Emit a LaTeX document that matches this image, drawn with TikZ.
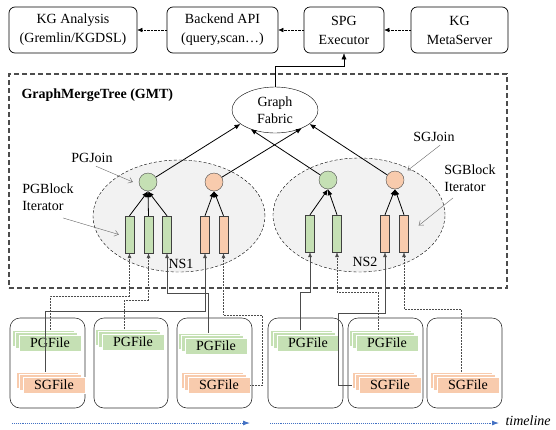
\documentclass[tikz,border=0pt]{standalone}
\usepackage{fontspec}
\setmainfont{Liberation Serif}
\usetikzlibrary{arrows.meta,positioning,shapes.geometric,shadows}

\definecolor{pgreen}{HTML}{C5E0B4}
\definecolor{sorange}{HTML}{F8CBAD}
\definecolor{nsgray}{HTML}{F2F2F2}
\definecolor{tlblue}{HTML}{4472C4}

\begin{document}
\begin{tikzpicture}[x=1pt,y=-1pt,
		font=\fontsize{14}{17}\selectfont,
		svc/.style={draw, rounded corners=6pt, minimum height=46pt, align=center, line width=0.7pt, font=\fontsize{14}{19}\selectfont},
		flow/.style={densely dotted, thin, -{Latex[length=5pt,width=4.5pt]}},
		gmtbox/.style={draw=black!70, dashed, line width=1.1pt, dash pattern=on 5pt off 3pt},
		nsarea/.style={ellipse, draw, densely dashed, fill=nsgray, thin},
		joinnode/.style={circle, draw=black!70, minimum size=18pt, inner sep=0pt},
		blockbar/.style={draw=black!75, minimum width=9pt, minimum height=37pt, inner sep=0pt},
		merge/.style={line width=0.8pt, -{Latex[length=6pt,width=5pt]}},
		callout/.style={draw=black!60, thin, -{Straight Barb[length=4pt,width=6pt]}},
		filebox/.style={draw=black!80, line width=0.6pt, rounded corners=10pt, minimum height=90pt, fill=white},
		filestack/.style={double copy shadow={shadow xshift=-3.5pt, shadow yshift=2.5pt}, draw=white, line width=0.6pt, minimum width=62pt, minimum height=16pt, inner sep=0pt},
		feed/.style={draw=black!70, line width=0.5pt, -{Latex[length=5pt,width=4pt]}},
		feeddot/.style={feed, densely dotted},
		timeline/.style={draw=tlblue, densely dotted, line width=0.9pt, -{Latex[length=7pt,width=5pt]}}]

		\useasboundingbox (0,0) rectangle (556,429);

		% services on top
		\node[svc, minimum width=128pt] (kga) at (73,30) {KG Analysis\\(Gremlin/KGDSL)};
		\node[svc, minimum width=111pt] (api) at (222.5,30) {Backend API\\(query,scan\ldots)};
		\node[svc, minimum width=80pt] (spg) at (344,30) {SPG\\Executor};
		\node[svc, minimum width=97pt] (meta) at (459.5,30) {KG\\MetaServer};

		\draw[flow] (api) -- (kga);
		\draw[flow] (spg) -- (api);
		\draw[flow] (meta) -- (spg);

		% graph merge tree
		\node[gmtbox, minimum width=498pt, minimum height=214pt] (gmt) at (258,181) {};
		\node[font=\fontsize{14}{17}\selectfont\bfseries, anchor=west] (gmtlbl) at (18,95) {GraphMergeTree (GMT)};

		\node[nsarea, minimum width=172pt, minimum height=112pt] (ns1) at (179,216) {};
		\node[nsarea, minimum width=172pt, minimum height=114pt] (ns2) at (359,215) {};

		\node[ellipse, draw, thin, fill=white, inner sep=0pt, minimum width=86pt, minimum height=46pt, align=center] (fabric) at (275,110) {Graph\\Fabric};
		\draw[-{Latex[length=6pt,width=5pt]}] (fabric.north) -- ++(0,-21) -| (spg.south);

		\node[joinnode, fill=pgreen] (pj1) at (148,182) {};
		\node[joinnode, fill=sorange] (sj1) at (214,182) {};
		\node[joinnode, fill=pgreen] (pj2) at (328,180) {};
		\node[joinnode, fill=sorange] (sj2) at (395,180) {};

		\node[blockbar, fill=pgreen] (g1) at (129.5,234.5) {};
		\node[blockbar, fill=pgreen] (g2) at (148.5,234.5) {};
		\node[blockbar, fill=pgreen] (g3) at (167,234.5) {};
		\node[blockbar, fill=sorange] (o1) at (205,234.5) {};
		\node[blockbar, fill=sorange] (o2) at (223.5,234.5) {};
		\node[blockbar, fill=pgreen] (g4) at (310,233.5) {};
		\node[blockbar, fill=pgreen] (g5) at (337,233.5) {};
		\node[blockbar, fill=sorange] (o3) at (385,233.5) {};
		\node[blockbar, fill=sorange] (o4) at (404,233.5) {};

		\foreach \b in {g1,g2,g3} \draw[merge] (\b.north) -- (pj1.south);
		\foreach \b in {o1,o2} \draw[merge] (\b.north) -- (sj1.south);
		\foreach \b in {g4,g5} \draw[merge] (\b.north) -- (pj2.south);
		\foreach \b in {o3,o4} \draw[merge] (\b.north) -- (sj2.south);

		\draw[merge] (pj1) -- (fabric.202);
		\draw[merge] (pj2) -- (fabric.218);
		\draw[merge] (sj1) -- (fabric.326);
		\draw[merge] (sj2) -- (fabric.338);

		\node (ns1lbl) at (181,264) {NS1};
		\node (ns2lbl) at (365,262) {NS2};

		\node (pgjoinlbl) at (92,158) {PGJoin};
		\draw[callout] ([xshift=4pt]pgjoinlbl.south) -- ([xshift=-6pt]pj1.west);
		\node[align=left] (pgblbl) at (48,197) {PGBlock\\Iterator};
		\draw[callout] ([shift={(15pt,-4pt)}]pgblbl.south) -- ([xshift=-6pt]g1.west);
		\node (sgjoinlbl) at (434,137) {SGJoin};
		\draw[callout] ([xshift=6pt]sgjoinlbl.south) -- ([shift={(6pt,3pt)}]sj2.north east);
		\node[align=left] (sgblbl) at (470,178) {SGBlock\\Iterator};
		\draw[callout] ([shift={(-17pt,-3pt)}]sgblbl.south) -- ([shift={(10pt,8pt)}]o4.east);

		% files
		\node[filebox, minimum width=75pt] (f1) at (47.5,363) {};
		\node[filebox, minimum width=74pt] (f2) at (131,363) {};
		\node[filebox, minimum width=75pt] (f3) at (214.5,363) {};
		\node[filebox, minimum width=75pt] (f4) at (305.5,363) {};
		\node[filebox, minimum width=75pt] (f5) at (385.5,363) {};
		\node[filebox, minimum width=75pt] (f6) at (464.5,363) {};

		\node[filestack, fill=pgreen] (pf1) at (50,343) {PGFile};
		\node[filestack, fill=sorange] (sf1) at (54,385) {SGFile};
		\node[filestack, fill=pgreen] (pf2) at (133,342) {PGFile};
		\node[filestack, fill=pgreen] (pf3) at (216,346) {PGFile};
		\node[filestack, fill=sorange] (sf3) at (219,385) {SGFile};
		\node[filestack, fill=pgreen] (pf4) at (308,343) {PGFile};
		\node[filestack, fill=pgreen] (pf5) at (387,343) {PGFile};
		\node[filestack, fill=sorange] (sf5) at (390,385) {SGFile};
		\node[filestack, fill=sorange] (sf6) at (468,385) {SGFile};

		% files feeding the block iterators
		\draw[feeddot] ([shift={(0pt,5pt)}]pf1.north) |- ([yshift=-43pt]g1.south) -- (g1.south);
		\draw[feeddot] ([shift={(-9pt,5pt)}]pf2.north) |- ([yshift=-47pt]g2.south) -- (g2.south);
		\draw[feed] ([shift={(-8pt,5pt)}]pf3.north) |- ([yshift=-40pt]g3.south) -- (g3.south);
		\draw[feed] ([shift={(-9pt,5pt)}]sf1.north) |- ([yshift=-58pt]o1.south) -- (o1.south);
		\draw[feeddot] (sf3.east) -- ++(12,0) |- ([yshift=-62pt]o2.south) -- (o2.south);
		\draw[feed] ([shift={(-8pt,5pt)}]pf4.north) |- ([yshift=-40pt]g4.south) -- (g4.south);
		\draw[feeddot] ([shift={(-9pt,5pt)}]pf5.north) |- ([yshift=-40pt]g5.south) -- (g5.south);
		\draw[feed] ([xshift=-7pt]sf5.west) -- ++(-13,0) |- ([yshift=-61pt]o3.south) -- (o3.south);
		\draw[feeddot] ([shift={(-7pt,5pt)}]sf6.north) |- ([yshift=-57pt]o4.south) -- (o4.south);

		% timeline
		\coordinate (tl1s) at (12,423);
		\coordinate (tl1e) at (250,423);
		\coordinate (tl2s) at (270,423);
		\node[font=\fontsize{14}{17}\selectfont\itshape, anchor=west] (tllbl) at (502,421) {timeline};
		\draw[timeline] (tl1s) -- (tl1e);
		\draw[timeline] (tl2s) -- ([xshift=-3pt]tllbl.west |- tl2s);
	\end{tikzpicture}
\end{document}
